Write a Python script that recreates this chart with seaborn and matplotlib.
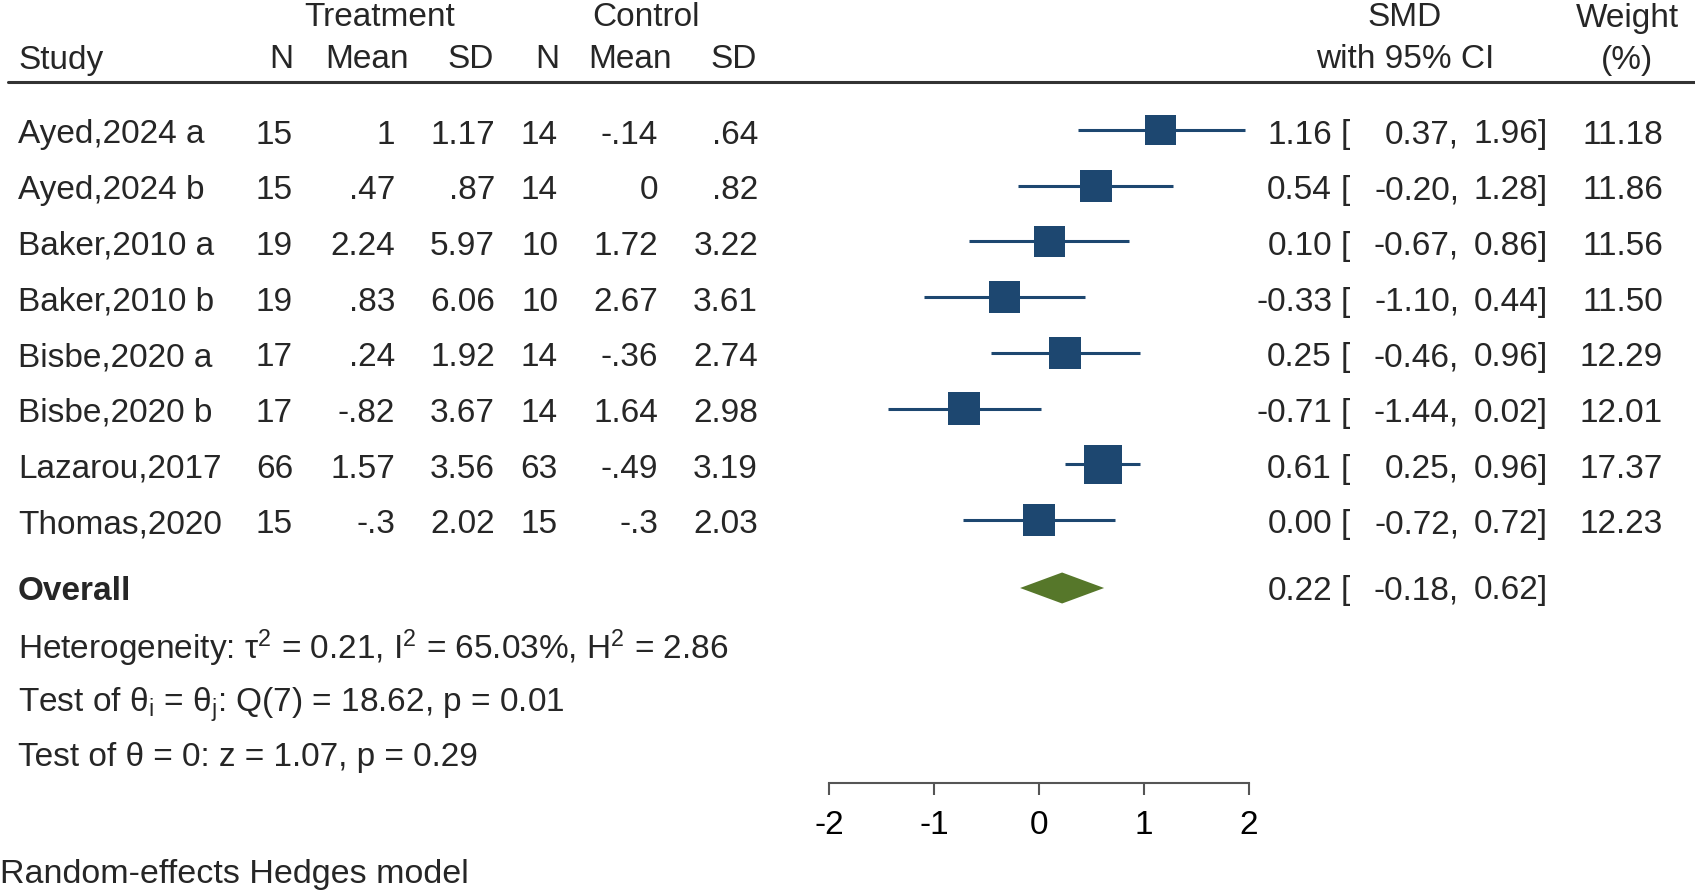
import numpy as np
import pandas as pd
import matplotlib
matplotlib.use("Agg")
import matplotlib.pyplot as plt
import seaborn as sns

# ---------------- data ----------------
studies = ["Ayed,2024 a", "Ayed,2024 b", "Baker,2010 a", "Baker,2010 b",
           "Bisbe,2020 a", "Bisbe,2020 b", "Lazarou,2017", "Thomas,2020"]
tr_n = [15, 15, 19, 19, 17, 17, 66, 15]
tr_mean = [1, .47, 2.24, .83, .24, -.82, 1.57, -.3]
tr_sd = [1.17, .87, 5.97, 6.06, 1.92, 3.67, 3.56, 2.02]
ct_n = [14, 14, 10, 10, 14, 14, 63, 15]
ct_mean = [-.14, 0, 1.72, 2.67, -.36, 1.64, -.49, -.3]
ct_sd = [.64, .82, 3.22, 3.61, 2.74, 2.98, 3.19, 2.03]
smd = [1.16, 0.54, 0.10, -0.33, 0.25, -0.71, 0.61, 0.00]
ci_lo = [0.37, -0.20, -0.67, -1.10, -0.46, -1.44, 0.25, -0.72]
ci_hi = [1.96, 1.28, 0.86, 0.44, 0.96, 0.02, 0.96, 0.72]
weight = [11.18, 11.86, 11.56, 11.50, 12.29, 12.01, 17.37, 12.23]
overall_est, overall_lo, overall_hi = 0.22, -0.18, 0.62
x_ticks = [-2, -1, 0, 1, 2]
col_headers = ["N", "Mean", "SD", "N", "Mean", "SD"]
group_headers = ["Treatment", "Control"]
stat_lines = [
    "Heterogeneity: \u03c4$^2$ = 0.21, I$^2$ = 65.03%, H$^2$ = 2.86",
    "Test of \u03b8$_\\mathrm{i}$ = \u03b8$_\\mathrm{j}$: Q(7) = 18.62, p = 0.01",
    "Test of \u03b8 = 0: z = 1.07, p = 0.29",
]
footnote = "Random-effects Hedges model"

# ---------------- style ----------------
sns.set_theme(style="white")
plt.rcParams["font.family"] = ["Liberation Sans", "DejaVu Sans"]
plt.rcParams["mathtext.fontset"] = "custom"
plt.rcParams["mathtext.rm"] = "Liberation Sans"
plt.rcParams["mathtext.it"] = "Liberation Sans:italic"
plt.rcParams["mathtext.bf"] = "Liberation Sans:bold"

W, H = 1695, 891
BLUE = "#1d4770"
GREEN = "#56772a"
GRAY = "#555555"
FS = 24

AX_BOTTOM = 783          # pixel row of the x axis line
ZERO_PX, UNIT_PX = 1039, 105
ROW0, ROWSTEP = 130, 55.7
Y_OVERALL = 588

def fmt(v):
    s = f"{v:g}"
    if s.startswith("0."):
        s = s[1:]
    elif s.startswith("-0."):
        s = "-" + s[2:]
    return s

fig = plt.figure(figsize=(W / 100, H / 100), dpi=100)

# text layer in pixel coordinates
tax = fig.add_axes([0, 0, 1, 1])
tax.set_xlim(0, W)
tax.set_ylim(H, 0)
tax.axis("off")

# plot layer
ax = fig.add_axes([0, (H - AX_BOTTOM) / H, 1, AX_BOTTOM / H])
ax.patch.set_alpha(0)
ax.set_xlim(-ZERO_PX / UNIT_PX, (W - ZERO_PX) / UNIT_PX)
ax.set_ylim(AX_BOTTOM, 0)

n = len(studies)
ys = ROW0 + ROWSTEP * np.arange(n)
df = pd.DataFrame({"study": studies, "smd": smd, "lo": ci_lo, "hi": ci_hi,
                   "weight": weight, "y": ys})

ax.hlines(df["y"], df["lo"], df["hi"], color=BLUE, lw=2.2, zorder=2)
side_pt = 38.6 * 72 / 100
sns.scatterplot(data=df, x="smd", y="y", size="weight",
                sizes=(0, side_pt ** 2), size_norm=(0, max(weight)),
                marker="s", color=BLUE, linewidth=0, legend=False,
                ax=ax, zorder=3)
half_h = 15.5
ax.fill([overall_lo, overall_est, overall_hi, overall_est],
        [Y_OVERALL, Y_OVERALL - half_h, Y_OVERALL, Y_OVERALL + half_h],
        color=GREEN, lw=0, zorder=3)

for s in ["top", "left", "right"]:
    ax.spines[s].set_visible(False)
ax.spines["bottom"].set_bounds(min(x_ticks), max(x_ticks))
ax.spines["bottom"].set_color(GRAY)
ax.spines["bottom"].set_linewidth(1.5)
ax.set_xticks(x_ticks)
ax.set_xticklabels([str(t) for t in x_ticks])
ax.tick_params(axis="x", direction="out", length=8.5, width=1.5, color=GRAY,
               labelsize=FS, pad=11, bottom=True, labelcolor="black")
ax.set_yticks([])
ax.set_xlabel("")
ax.set_ylabel("")

# ---------------- text ----------------
HDR1, HDR2, HLINE = 18, 60, 82
tax.text(380, HDR1, group_headers[0], ha="center", va="center", fontsize=FS)
tax.text(646, HDR1, group_headers[1], ha="center", va="center", fontsize=FS)
tax.text(18, HDR2, "Study", ha="left", va="center", fontsize=FS)
col_right = [293, 409, 494, 559, 672, 757]
for x, h in zip(col_right, col_headers):
    tax.text(x, HDR2, h, ha="right", va="center", fontsize=FS)
tax.text(1405, HDR1, "SMD", ha="center", va="center", fontsize=FS)
tax.text(1405, HDR2, "with 95% CI", ha="center", va="center", fontsize=FS)
tax.text(1627, HDR1, "Weight", ha="center", va="center", fontsize=FS)
tax.text(1627, HDR2, "(%)", ha="center", va="center", fontsize=FS)
tax.plot([8, W], [HLINE, HLINE], color="#333333", lw=2.2)

data_right = [293, 395, 495, 558, 658, 758]
for i in range(n):
    y = ys[i] + 5
    tax.text(18, y, studies[i], ha="left", va="center", fontsize=FS)
    vals = [str(tr_n[i]), fmt(tr_mean[i]), fmt(tr_sd[i]),
            str(ct_n[i]), fmt(ct_mean[i]), fmt(ct_sd[i])]
    for x, v in zip(data_right, vals):
        tax.text(x, y, v, ha="right", va="center", fontsize=FS)
    tax.text(1332, y, f"{smd[i]:.2f}", ha="right", va="center", fontsize=FS)
    tax.text(1341, y, "[", ha="left", va="center", fontsize=FS)
    tax.text(1459, y, f"{ci_lo[i]:.2f},", ha="right", va="center", fontsize=FS)
    tax.text(1548, y, f"{ci_hi[i]:.2f}]", ha="right", va="center", fontsize=FS)
    tax.text(1663, y, f"{weight[i]:.2f}", ha="right", va="center", fontsize=FS)

yo = Y_OVERALL + 3
tax.text(18, yo, "Overall", ha="left", va="center", fontsize=FS, fontweight="bold")
tax.text(1332, yo, f"{overall_est:.2f}", ha="right", va="center", fontsize=FS)
tax.text(1341, yo, "[", ha="left", va="center", fontsize=FS)
tax.text(1459, yo, f"{overall_lo:.2f},", ha="right", va="center", fontsize=FS)
tax.text(1548, yo, f"{overall_hi:.2f}]", ha="right", va="center", fontsize=FS)

for k, line in enumerate(stat_lines):
    tax.text(18, 643 + 55.5 * k, line, ha="left", va="center_baseline", fontsize=FS)

tax.text(0, 874, footnote, ha="left", va="center", fontsize=FS + 0.5)

fig.savefig("out.png", dpi=100)
